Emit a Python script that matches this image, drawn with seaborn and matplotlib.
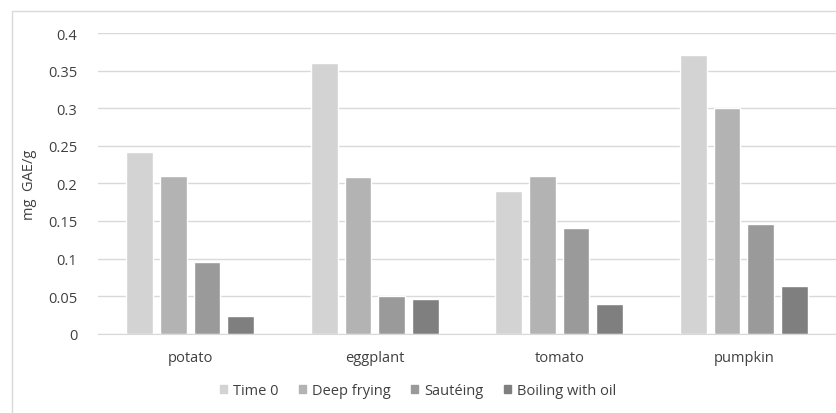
import pandas as pd
import matplotlib
matplotlib.use('Agg')
import matplotlib.pyplot as plt
import seaborn as sns
from matplotlib.patches import Rectangle

# values (mg GAE/g)
vegetables = ['potato', 'eggplant', 'tomato', 'pumpkin']
methods = ['Time 0', 'Deep frying', 'Sautéing', 'Boiling with oil']
time0 = [0.242, 0.360, 0.190, 0.371]
deep_frying = [0.210, 0.209, 0.210, 0.300]
sauteing = [0.095, 0.050, 0.140, 0.146]
boiling_oil = [0.023, 0.046, 0.040, 0.063]
colors = ['#d3d3d3', '#b3b3b3', '#9a9a9a', '#7f7f7f']

df = pd.DataFrame({
    'vegetable': vegetables * 4,
    'method': [m for m in methods for _ in vegetables],
    'value': time0 + deep_frying + sauteing + boiling_oil,
})

sns.set_style('white')
plt.rcParams['font.family'] = ['Open Sans', 'DejaVu Sans']

fig = plt.figure(figsize=(8.36, 4.14), dpi=100)
W, H = 836, 414
# chart area border (cropped on right/bottom)
fig.patches.append(Rectangle((12 / W, -0.1), 2, (H - 12) / H + 0.1,
                             transform=fig.transFigure, fill=False,
                             edgecolor='#d9d9d9', linewidth=1))

ax = fig.add_axes([98 / W, (H - 334.7) / H, (836 - 98) / W, (334.7 - 34) / H])
sns.barplot(data=df, x='vegetable', y='value', hue='method', palette=colors,
            width=0.73, gap=0.21, ax=ax, legend=False, saturation=1)

ax.set_ylim(0, 0.4)
ax.set_yticks([0, 0.05, 0.1, 0.15, 0.2, 0.25, 0.3, 0.35, 0.4])
ax.set_yticklabels(['0', '0.05', '0.1', '0.15', '0.2', '0.25', '0.3', '0.35', '0.4'])
ax.set_xlim(-0.5, 3.5)
ax.yaxis.grid(True, color='#d9d9d9', linewidth=1)
ax.set_axisbelow(True)
for s in ['top', 'right', 'left']:
    ax.spines[s].set_visible(False)
ax.spines['bottom'].set_color('#d9d9d9')
ax.tick_params(axis='both', length=0, labelsize=10.5, colors='#404040')
ax.tick_params(axis='x', pad=12)
ax.tick_params(axis='y', pad=15)
ax.set_xlabel('')
ax.set_ylabel('mg  GAE/g', fontsize=10.5, color='#404040', labelpad=8)

handles = [Rectangle((0, 0), 1, 1, color=c) for c in colors]
fig.legend(handles, methods, loc='center', bbox_to_anchor=(0.5, (H - 392) / H),
           ncol=4, frameon=False, fontsize=10.5, handlelength=0.5, handleheight=0.5,
           handletextpad=0.4, columnspacing=1.4, labelcolor='#404040')

fig.savefig('out.png', dpi=100)
